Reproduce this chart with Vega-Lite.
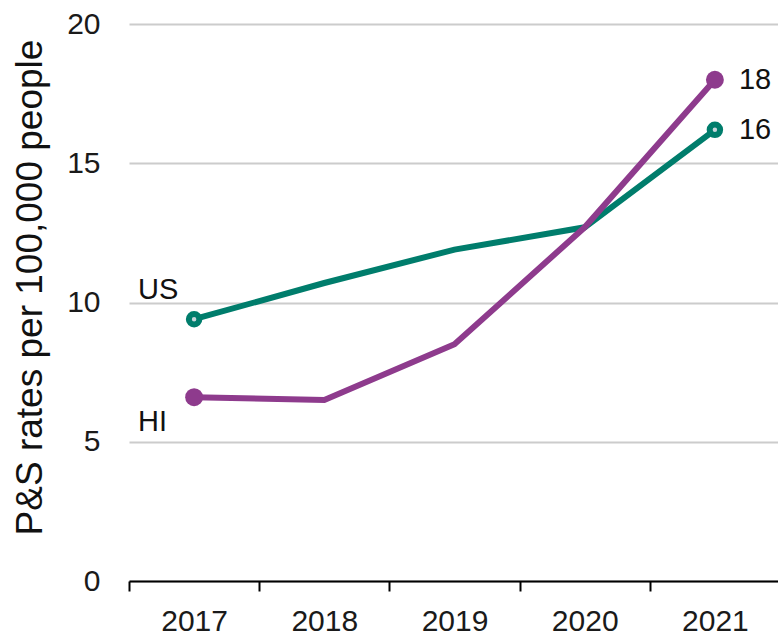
{
  "$schema": "https://vega.github.io/schema/vega-lite/v6.json",
  "autosize": "none",
  "padding": {"left": 129, "top": 24, "right": 0, "bottom": 57},
  "width": 651,
  "height": 557,
  "config": {
    "font": "Liberation Sans",
    "view": {"stroke": null},
    "axis": {"labelFont": "Liberation Sans", "titleFont": "Liberation Sans"}
  },
  "data": {
    "values": [
      {"series": "US", "year": "2017", "value": 9.4},
      {"series": "US", "year": "2018", "value": 10.7},
      {"series": "US", "year": "2019", "value": 11.9},
      {"series": "US", "year": "2020", "value": 12.7},
      {"series": "US", "year": "2021", "value": 16.2},
      {"series": "HI", "year": "2017", "value": 6.6},
      {"series": "HI", "year": "2018", "value": 6.5},
      {"series": "HI", "year": "2019", "value": 8.5},
      {"series": "HI", "year": "2020", "value": 12.7},
      {"series": "HI", "year": "2021", "value": 18.0}
    ]
  },
  "encoding": {
    "x": {
      "field": "year", "type": "ordinal",
      "scale": {"paddingInner": 0, "paddingOuter": 0},
      "axis": {
        "title": null, "labelAngle": 0, "labelFontSize": 30, "labelColor": "#1a1a1a",
        "domainColor": "#000000", "domainWidth": 2, "tickColor": "#000000", "tickWidth": 2,
        "tickSize": 10, "tickBand": "extent", "labelPadding": 15, "grid": false
      }
    },
    "y": {
      "field": "value", "type": "quantitative",
      "scale": {"domain": [0, 20], "nice": false},
      "axis": {
        "title": "P&S rates per 100,000 people", "titleFontSize": 37, "titleFontWeight": "normal",
        "titleColor": "#111111", "titlePadding": 17, "titleY": 263,
        "values": [0, 5, 10, 15, 20], "labelFontSize": 30, "labelColor": "#1a1a1a",
        "labelPadding": 29, "ticks": false, "domain": false,
        "grid": true, "gridColor": "#cccccc", "gridWidth": 2
      }
    },
    "color": {
      "field": "series", "type": "nominal",
      "scale": {"domain": ["US", "HI"], "range": ["#007d6c", "#8e3b8d"]},
      "legend": null
    }
  },
  "layer": [
    {"mark": {"type": "line", "strokeWidth": 6}},
    {
      "transform": [{"filter": "datum.series === 'HI' && (datum.year === '2017' || datum.year === '2021')"}],
      "mark": {"type": "point", "filled": true, "size": 320, "opacity": 1}
    },
    {
      "transform": [{"filter": "datum.series === 'US' && (datum.year === '2017' || datum.year === '2021')"}],
      "mark": {"type": "point", "filled": false, "fill": "#c9d6dc", "size": 110, "strokeWidth": 6, "opacity": 1}
    },
    {
      "transform": [{"filter": "datum.year === '2017' && datum.series === 'US'"}],
      "mark": {"type": "text", "align": "left", "baseline": "middle", "fontSize": 29, "dx": -56, "dy": -29, "color": "#111111"},
      "encoding": {"text": {"field": "series"}, "color": {"value": "#111111"}}
    },
    {
      "transform": [{"filter": "datum.year === '2017' && datum.series === 'HI'"}],
      "mark": {"type": "text", "align": "left", "baseline": "middle", "fontSize": 29, "dx": -56, "dy": 25, "color": "#111111"},
      "encoding": {"text": {"field": "series"}, "color": {"value": "#111111"}}
    },
    {
      "transform": [{"filter": "datum.year === '2021'"}],
      "mark": {"type": "text", "align": "left", "baseline": "middle", "fontSize": 29, "dx": 24, "color": "#111111"},
      "encoding": {
        "text": {"field": "value", "format": ".0f"},
        "color": {"value": "#111111"}
      }
    }
  ]
}
